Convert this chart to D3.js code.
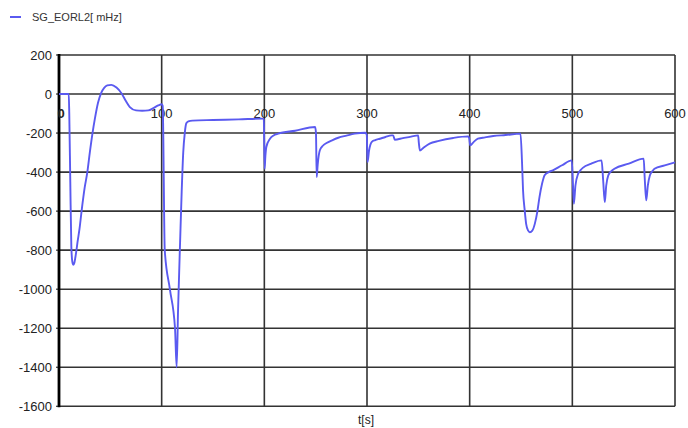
<!DOCTYPE html>
<html><head><meta charset="utf-8">
<script src="https://cdn.jsdelivr.net/npm/d3@7"></script>
<style>body{margin:0;background:#fff;}svg{display:block;font-family:"Liberation Sans",Arial,sans-serif;}</style>
</head><body>
<svg id="c" width="688" height="428"></svg>
<script>
const seriesName = "SG_EORL2[ mHz]";
const xLabel = "t[s]";
const xTicks = [0,100,200,300,400,500,600];
const yTicks = [200,0,-200,-400,-600,-800,-1000,-1200,-1400,-1600];
const time = [0,9.5,10,11,12,13,14,15,16,17,18,20,22,25,27.6,30,32.5,35,38,41,44,47,51,56,61,65,69,75,81,87,92,96.7,100,
 101,103,108,113,114.6,116,118,119.5,121,122.5,124,126,130,150,175,198.5,
 199.5,200.3,201,202,205.5,209,213.5,230,249.5,
 250.3,251,252,254,257,260.6,266,272,280,288,298.5,
 299.8,300.5,302,304.5,308,312.5,318,324,325.5,327,335,343,349.8,
 350.5,351.5,355,361,370,384,398.5,
 399.5,400.5,404,408,415,423,435,449.5,
 451,452,453.5,455,457,458.6,461,463.5,466,468,470.5,473,477,481,490,499.5,
 500.5,501.5,503,505.7,508,510.5,518,528.5,
 530,531.6,533,535,538,541,555,569.5,
 570.5,572,573.5,575.5,578,580,590,600];
const values = [0,0,-100,-450,-780,-860,-875,-865,-835,-800,-760,-690,-600,-480,-400,-300,-205,-125,-45,5,32,44,47,33,3,-35,-67,-84,-86,-84,-72,-58,-52,
 -60,-800,-1000,-1200,-1400,-1100,-750,-500,-300,-200,-150,-140,-136,-133,-130,-126,
 -130,-383,-320,-270,-229,-212,-203,-188,-169,
 -200,-425,-360,-289,-265,-251,-237,-224,-213,-203,-198,
 -210,-349,-290,-246,-236,-229,-220,-212,-212,-234,-226,-218,-212,
 -250,-289,-275,-254,-240,-225,-217,
 -225,-263,-245,-229,-222,-215,-210,-203,
 -350,-494,-590,-665,-700,-708,-700,-664,-600,-528,-460,-416,-400,-391,-365,-340,
 -450,-562,-470,-408,-390,-377,-358,-340,
 -440,-554,-470,-417,-395,-383,-357,-331,
 -430,-545,-470,-417,-395,-383,-366,-350];

const svg = d3.select("#c");
const x = d3.scaleLinear().domain([0,600]).range([59,675]);
const y = d3.scaleLinear().domain([-1600,200]).range([406.3,55]);

const grid = svg.append("g");
grid.selectAll("line.h").data(yTicks).join("line")
  .attr("x1",x(0)).attr("x2",x(600)).attr("y1",d=>y(d)).attr("y2",d=>y(d))
  .attr("stroke","#333").attr("stroke-width",1.6);
grid.selectAll("line.v").data(xTicks.filter(d=>d>0)).join("line")
  .attr("x1",d=>x(d)).attr("x2",d=>x(d)).attr("y1",y(200)).attr("y2",y(-1600))
  .attr("stroke","#333").attr("stroke-width",1.6);
grid.selectAll("line.t").data(yTicks).join("line")
  .attr("x1",x(0)-3).attr("x2",x(0)).attr("y1",d=>y(d)).attr("y2",d=>y(d))
  .attr("stroke","#333").attr("stroke-width",1.2);
svg.append("line").attr("x1",x(0)).attr("x2",x(0)).attr("y1",y(200)-1).attr("y2",y(-1600)+1)
  .attr("stroke","#000").attr("stroke-width",2.8);

svg.append("g").selectAll("text").data(yTicks).join("text")
  .attr("x",52).attr("y",d=>y(d)).attr("dy","0.36em").attr("text-anchor","end")
  .attr("font-size",13).attr("fill","#222").text(d=>d);

svg.append("g").selectAll("text").data(xTicks).join("text")
  .attr("x",d=>x(d)+(d===0?2:0)).attr("y",y(0)+19).attr("dy","0.36em").attr("text-anchor","middle")
  .attr("font-size",13).attr("fill","#222")
  .attr("font-weight",d=>d===0?"bold":"normal").text(d=>d);

const line = d3.line().x((d,i)=>x(time[i])).y(d=>y(d)).curve(d3.curveMonotoneX);
svg.append("path").datum(values).attr("d",line)
  .attr("fill","none").attr("stroke","#5a5af0").attr("stroke-width",1.9)
  .attr("stroke-linejoin","round");

svg.append("text").attr("x",366).attr("y",420).attr("dy","0.36em").attr("text-anchor","middle")
  .attr("font-size",12).attr("fill","#222").text(xLabel);

svg.append("line").attr("x1",10).attr("x2",21).attr("y1",17).attr("y2",17)
  .attr("stroke","#5a5af0").attr("stroke-width",2);
svg.append("text").attr("x",32).attr("y",17).attr("dy","0.36em")
  .attr("font-size",11).attr("fill","#333").text(seriesName);
</script>
</body></html>
